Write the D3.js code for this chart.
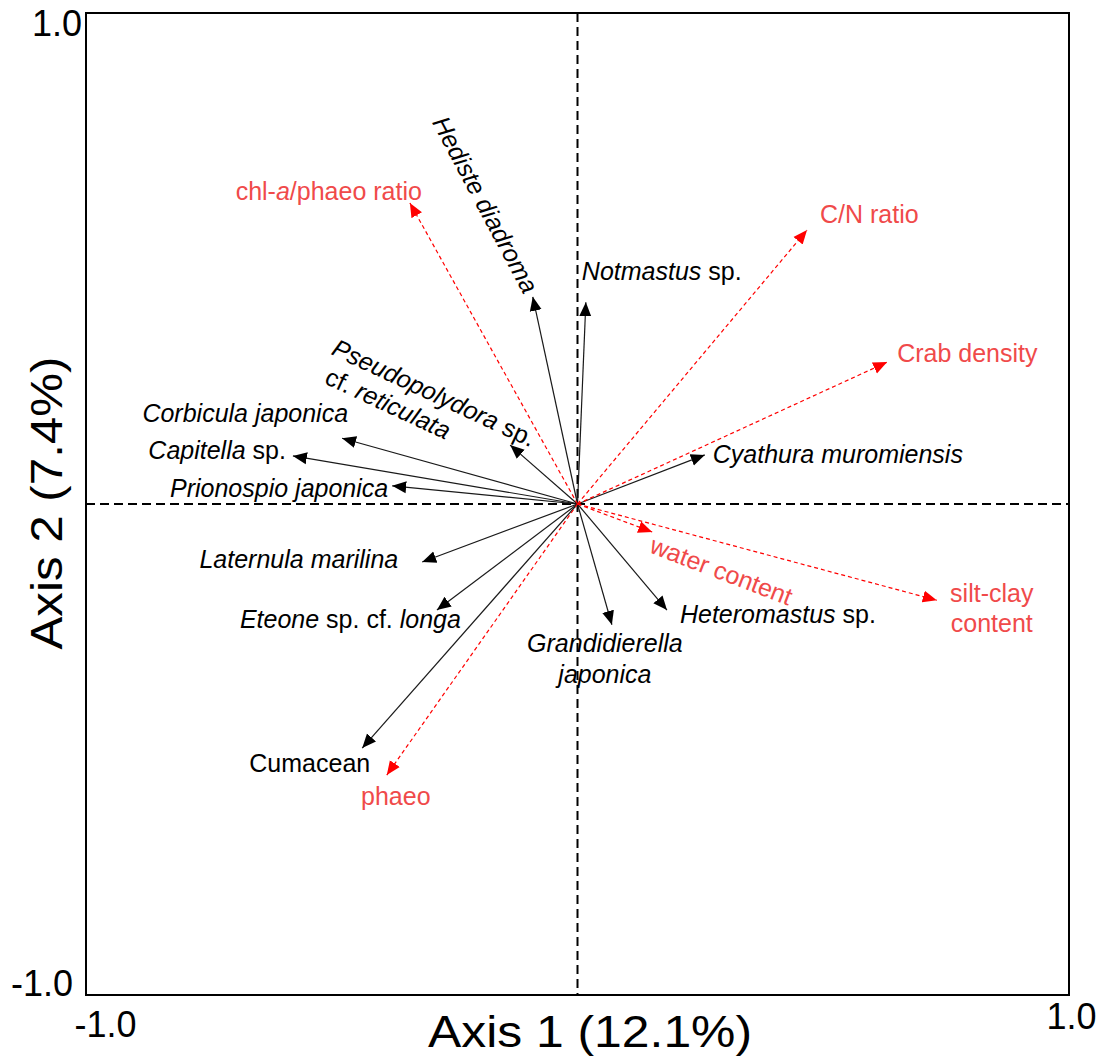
<!DOCTYPE html>
<html>
<head>
<meta charset="utf-8">
<script src="https://cdn.jsdelivr.net/npm/d3@7"></script>
<style>
  html, body { margin: 0; padding: 0; background: #fff; }
  svg { display: block; font-family: Arial, "Liberation Sans", sans-serif; }
</style>
</head>
<body>
<svg id="chart" width="1102" height="1063"></svg>
<script>
// RDA biplot: species (solid black) and environmental variables (dashed red)

// --- species vectors ---
const speciesAxis1 = [-0.091, 0.017, -0.137, -0.479, -0.579, -0.377, -0.316, -0.286, -0.438, 0.070, 0.182, 0.259];
const speciesAxis2 = [0.422, 0.411, 0.120, 0.134, 0.098, 0.037, -0.118, -0.216, -0.497, -0.246, -0.216, 0.100];
// each label: lines of [text, italic] segments
const speciesLabels = [
  [[["Hediste diadroma", true]]],
  [[["Notmastus", true], [" sp.", false]]],
  [[["Pseudopolydora", true], [" sp.", false]], [["cf. ", false], ["reticulata", true]]],
  [[["Corbicula japonica", true]]],
  [[["Capitella", true], [" sp.", false]]],
  [[["Prionospio japonica", true]]],
  [[["Laternula marilina", true]]],
  [[["Eteone", true], [" sp. cf. ", false], ["longa", true]]],
  [[["Cumacean", false]]],
  [[["Grandidierella", true]], [["japonica", true]]],
  [[["Heteromastus", true], [" sp.", false]]],
  [[["Cyathura muromiensis", true]]]
];

// --- environmental vectors ---
const envAxis1 = [-0.341, 0.467, 0.630, 0.152, 0.731, -0.388];
const envAxis2 = [0.613, 0.558, 0.289, -0.057, -0.196, -0.552];
const envLabels = [
  [[["chl-", false], ["a", true], ["/phaeo ratio", false]]],
  [[["C/N ratio", false]]],
  [[["Crab density", false]]],
  [[["water content", false]]],
  [[["silt-clay", false]], [["content", false]]],
  [[["phaeo", false]]]
];

// --- axis text ---
const tickValues = [-1, 1];
const xTitle = "Axis 1 (12.1%)";
const yTitle = "Axis 2 (7.4%)";

// label placement relative to arrow tip (pixels)
const speciesLabelLayout = [
  { dx: -55, dy: -88, anchor: "middle", angle: 62 },
  { dx: -4, dy: -22, anchor: "start", angle: 0 },
  { dx: -180, dy: -91, anchor: "start", angle: 25, step: 29, indent: [0, 6] },
  { dx: 6, dy: -16, anchor: "end", angle: 0 },
  { dx: -7, dy: 3, anchor: "end", angle: 0 },
  { dx: -4, dy: 11, anchor: "end", angle: 0 },
  { dx: -24, dy: 6, anchor: "end", angle: 0 },
  { dx: 24, dy: 18, anchor: "end", angle: 0 },
  { dx: 8, dy: 24, anchor: "end", angle: 0 },
  { dx: -7, dy: 27, anchor: "middle", angle: 0, step: 31 },
  { dx: 13, dy: 13, anchor: "start", angle: 0 },
  { dx: 8, dy: 8, anchor: "start", angle: 0 }
];
const envLabelLayout = [
  { dx: 12, dy: -3, anchor: "end", angle: 0 },
  { dx: 13, dy: -7, anchor: "start", angle: 0 },
  { dx: 10, dy: 0, anchor: "start", angle: 0 },
  { dx: -4, dy: 20, anchor: "start", angle: 21 },
  { dx: 55, dy: 2, anchor: "middle", angle: 0, step: 30 },
  { dx: 9, dy: 30, anchor: "middle", angle: 0 }
];

const svg = d3.select("#chart");
const plot = { left: 86, right: 1069, top: 13, bottom: 995 };

const x = d3.scaleLinear().domain([-1, 1]).range([plot.left, plot.right]);
const y = d3.scaleLinear().domain([-1, 1]).range([plot.bottom, plot.top]);

const labelFont = 25;
const envTextColor = "#f04a4a";
const envArrowColor = "#ff0000";
const spColor = "#1a1a1a";

// arrowhead markers
const defs = svg.append("defs");
function marker(id, color) {
  defs.append("marker")
    .attr("id", id)
    .attr("viewBox", "0 -7 14 14")
    .attr("refX", 14).attr("refY", 0)
    .attr("markerUnits", "userSpaceOnUse")
    .attr("markerWidth", 14).attr("markerHeight", 14)
    .attr("orient", "auto")
    .append("path")
    .attr("d", "M0,-6L14,0L0,6Z")
    .attr("fill", color);
}
marker("headBlack", "#000");
marker("headRed", envArrowColor);

// zero lines
svg.append("line")
  .attr("x1", x(0)).attr("x2", x(0)).attr("y1", y(1)).attr("y2", y(-1))
  .attr("stroke", "#000").attr("stroke-width", 2).attr("stroke-dasharray", "9,5");
svg.append("line")
  .attr("x1", x(-1)).attr("x2", x(1)).attr("y1", y(0)).attr("y2", y(0))
  .attr("stroke", "#000").attr("stroke-width", 2).attr("stroke-dasharray", "9,5");

// frame
svg.append("rect")
  .attr("x", x(-1)).attr("y", y(1))
  .attr("width", x(1) - x(-1)).attr("height", y(-1) - y(1))
  .attr("fill", "none").attr("stroke", "#000").attr("stroke-width", 2);

// axes: only end labels, no tick marks
const fmt = d => d.toFixed(1);
const yTickShift = { "1": { dx: -4, dy: 22 }, "-1": { dx: -13, dy: 0 } };
const xTickShift = { "-1": { dx: 19, dy: 42 }, "1": { dx: 2, dy: 34 } };

const yAxis = svg.append("g")
  .attr("transform", `translate(${plot.left},0)`)
  .call(d3.axisLeft(y).tickValues(tickValues).tickFormat(fmt).tickSize(0).tickPadding(0));
yAxis.select(".domain").remove();
yAxis.selectAll("text")
  .attr("font-size", 36).attr("font-family", "Arial, 'Liberation Sans', sans-serif")
  .attr("fill", "#000").attr("text-anchor", "end")
  .attr("dy", null)
  .attr("x", d => yTickShift[d].dx)
  .attr("y", d => yTickShift[d].dy);

const xAxis = svg.append("g")
  .attr("transform", `translate(0,${plot.bottom})`)
  .call(d3.axisBottom(x).tickValues(tickValues).tickFormat(fmt).tickSize(0).tickPadding(0));
xAxis.select(".domain").remove();
xAxis.selectAll("text")
  .attr("font-size", 36).attr("font-family", "Arial, 'Liberation Sans', sans-serif")
  .attr("fill", "#000").attr("text-anchor", "middle")
  .attr("dy", null)
  .attr("x", d => xTickShift[d].dx)
  .attr("y", d => xTickShift[d].dy);

// axis titles
svg.append("text")
  .attr("x", 590).attr("y", 1047)
  .attr("text-anchor", "middle").attr("font-size", 44)
  .attr("textLength", 324).attr("lengthAdjust", "spacingAndGlyphs")
  .text(xTitle);
svg.append("text")
  .attr("transform", "translate(62,503) rotate(-90)")
  .attr("text-anchor", "middle").attr("font-size", 44)
  .attr("textLength", 293).attr("lengthAdjust", "spacingAndGlyphs")
  .text(yTitle);

// vectors
const species = speciesAxis1.map((v, i) => ({ a1: v, a2: speciesAxis2[i], label: speciesLabels[i], lay: speciesLabelLayout[i] }));
const env = envAxis1.map((v, i) => ({ a1: v, a2: envAxis2[i], label: envLabels[i], lay: envLabelLayout[i] }));

svg.append("g").selectAll("line").data(species).join("line")
  .attr("x1", x(0)).attr("y1", y(0))
  .attr("x2", d => x(d.a1)).attr("y2", d => y(d.a2))
  .attr("stroke", spColor).attr("stroke-width", 1.2)
  .attr("marker-end", "url(#headBlack)");

svg.append("g").selectAll("line").data(env).join("line")
  .attr("x1", x(0)).attr("y1", y(0))
  .attr("x2", d => x(d.a1)).attr("y2", d => y(d.a2))
  .attr("stroke", envArrowColor).attr("stroke-width", 1.2)
  .attr("stroke-dasharray", "4,3")
  .attr("marker-end", "url(#headRed)");

function drawLabels(data, color) {
  const g = svg.append("g");
  data.forEach(d => {
    const lay = d.lay;
    const gx = x(d.a1) + lay.dx, gy = y(d.a2) + lay.dy;
    const lg = g.append("g")
      .attr("transform", `translate(${gx},${gy}) rotate(${lay.angle})`);
    d.label.forEach((line, li) => {
      const t = lg.append("text")
        .attr("x", lay.indent ? lay.indent[li] : 0)
        .attr("y", li * (lay.step || 0))
        .attr("text-anchor", lay.anchor)
        .attr("font-size", labelFont)
        .attr("fill", color);
      line.forEach(([txt, it]) => {
        t.append("tspan")
          .attr("font-style", it ? "italic" : "normal")
          .style("white-space", "pre")
          .text(txt);
      });
    });
  });
}
drawLabels(species, "#000");
drawLabels(env, envTextColor);
</script>
</body>
</html>
